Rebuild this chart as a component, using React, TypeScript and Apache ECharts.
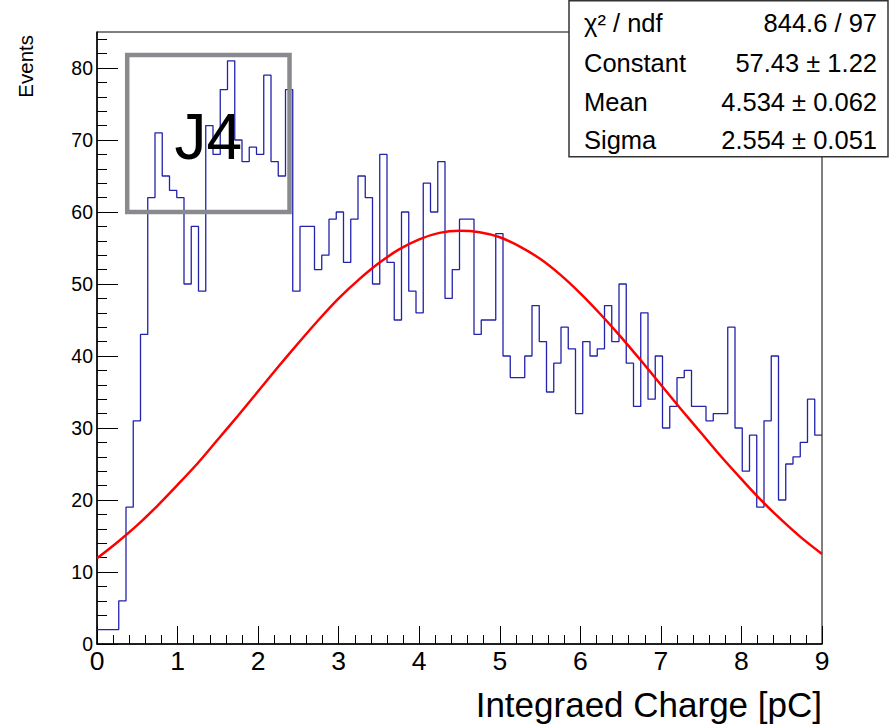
import React, { useEffect, useRef } from 'react';
import * as echarts from 'echarts';

// ---- Data ----
const X_MIN = 0;
const X_MAX = 9;
const N_BINS = 100;
const HIST_VALUES = [
  2, 2, 2, 6, 19, 31, 43, 62, 71, 65,
  63, 62, 50, 58, 49, 72, 68, 77, 81, 70,
  67, 69, 68, 79, 67, 65, 77, 49, 58, 58,
  52, 54, 59, 60, 53, 59, 65, 62, 50, 68,
  53, 45, 60, 49, 46, 64, 60, 67, 48, 52,
  59, 59, 43, 45, 45, 57, 40, 37, 37, 40,
  47, 42, 35, 39, 44, 41, 32, 42, 40, 41,
  47, 42, 50, 39, 33, 46, 34, 40, 30, 33,
  37, 38, 33, 33, 31, 32, 32, 44, 30, 24,
  29, 19, 31, 40, 20, 25, 26, 28, 34, 29,
];

// Fit curve (Gaussian, parameters in the stats box)
const FIT_X = [
  0, 0.25, 0.5, 0.75, 1, 1.25, 1.5, 1.75, 2, 2.25, 2.5, 2.75, 3, 3.25, 3.5, 3.75, 4, 4.25, 4.5,
  4.75, 5, 5.25, 5.5, 5.75, 6, 6.25, 6.5, 6.75, 7, 7.25, 7.5, 7.75, 8, 8.25, 8.5, 8.75, 9,
];
const FIT_Y = [
  11.9, 14.1, 16.5, 19.2, 22.1, 25.1, 28.4, 31.7, 35.1, 38.5, 41.8, 45.0, 48.0, 50.6, 52.9, 54.8, 56.2, 57.1, 57.4,
  57.2, 56.5, 55.2, 53.5, 51.3, 48.7, 45.8, 42.7, 39.4, 36.0, 32.6, 29.3, 26.0, 22.9, 19.9, 17.2, 14.7, 12.5,
];

const Y_MAJOR = [0, 10, 20, 30, 40, 50, 60, 70, 80];
const Y_MINOR = [2, 4, 6, 8, 12, 14, 16, 18, 22, 24, 26, 28, 32, 34, 36, 38, 42, 44, 46, 48, 52, 54, 56, 58, 62, 64, 66, 68, 72, 74, 76, 78, 82, 84];

const STAT_LABELS = ['χ² / ndf', 'Constant', 'Mean', 'Sigma'];
const STAT_VALUES = ['844.6 / 97', '57.43 ± 1.22', '4.534 ± 0.062', '2.554 ± 0.051'];

const BOX_LABEL = 'J4';
const BOX_X = [0.375, 2.39];
const BOX_Y = [60, 81.8];

const X_TITLE = 'Integraed Charge [pC]';
const Y_TITLE = 'Events';

const FONT = '"Liberation Sans", Arial, Helvetica, sans-serif';

export default function App() {
  const ref = useRef<HTMLDivElement>(null);

  useEffect(() => {
    if (!ref.current) return;
    const chart = echarts.init(ref.current, undefined, { renderer: 'svg' });

    const binWidth = (X_MAX - X_MIN) / N_BINS;
    const histData: number[][] = HIST_VALUES.map((v, i) => [X_MIN + i * binWidth, v]);
    histData.push([X_MAX, HIST_VALUES[HIST_VALUES.length - 1]]);
    const fitData = FIT_X.map((x, i) => [x, FIT_Y[i]]);

    const statY = [23, 63, 102, 140];
    const statGraphics: any[] = [];
    STAT_LABELS.forEach((lab, i) => {
      statGraphics.push({
        type: 'text', x: 584, y: statY[i], z: 101,
        style: { text: lab, fontSize: 25.5, fontFamily: FONT, fill: '#000', align: 'left', verticalAlign: 'middle' },
      });
      statGraphics.push({
        type: 'text', x: 877, y: statY[i], z: 101,
        style: { text: STAT_VALUES[i], fontSize: 25.5, fontFamily: FONT, fill: '#000', align: 'right', verticalAlign: 'middle' },
      });
    });

    const option: any = {
      animation: false,
      backgroundColor: '#fff',
      grid: { left: 97, right: 70, top: 32, bottom: 80, show: true, borderColor: '#000', borderWidth: 1, backgroundColor: 'transparent' },
      xAxis: {
        type: 'value', min: X_MIN, max: X_MAX, interval: 1,
        axisLine: { show: true, onZero: false, lineStyle: { color: '#000', width: 1.5 } },
        axisTick: { show: true, inside: true, length: 18, lineStyle: { color: '#000', width: 1 } },
        minorTick: { show: true, splitNumber: 5, length: 9, lineStyle: { color: '#000', width: 1 } },
        splitLine: { show: false },
        minorSplitLine: { show: false },
        axisLabel: { fontSize: 26.5, color: '#000', margin: 3, fontFamily: FONT },
      },
      yAxis: [
        {
          type: 'value', min: 0, max: 85, interval: 10,
          axisLine: { show: true, onZero: false, lineStyle: { color: '#000', width: 1.5 } },
          axisTick: { show: true, inside: true, length: 21, customValues: Y_MAJOR, lineStyle: { color: '#000', width: 1 } },
          splitLine: { show: false },
          axisLabel: { fontSize: 19.5, color: '#000', margin: 4, fontFamily: FONT, customValues: Y_MAJOR },
        },
        {
          type: 'value', min: 0, max: 85, position: 'left',
          axisLine: { show: false },
          axisTick: { show: true, inside: true, length: 10, customValues: Y_MINOR, lineStyle: { color: '#000', width: 1 } },
          splitLine: { show: false },
          axisLabel: { show: false },
        },
      ],
      series: [
        {
          type: 'line', name: 'hist', data: histData, step: 'end', showSymbol: false, symbol: 'none',
          yAxisIndex: 0,
          lineStyle: { color: '#2222aa', width: 1.3 },
          z: 3,
          markArea: {
            silent: true,
            z: 4,
            itemStyle: { color: 'rgba(0,0,0,0)', borderColor: '#888a8d', borderWidth: 4.5 },
            label: { show: true, position: 'inside', offset: [0, 3], formatter: BOX_LABEL, fontSize: 64, color: '#000', fontFamily: FONT },
            data: [[{ xAxis: BOX_X[0], yAxis: BOX_Y[1] }, { xAxis: BOX_X[1], yAxis: BOX_Y[0] }]],
          },
        },
        {
          type: 'line', name: 'fit', data: fitData, smooth: 0.3, showSymbol: false, symbol: 'none',
          yAxisIndex: 0,
          lineStyle: { color: '#ff0000', width: 2.5 },
          z: 5,
        },
      ],
      graphic: [
        {
          type: 'rect', z: 100,
          shape: { x: 569, y: 0.75, width: 319, height: 156 },
          style: { fill: '#fff', stroke: '#333', lineWidth: 1.5 },
        },
        ...statGraphics,
        {
          type: 'text', x: 822, y: 704,
          style: { text: X_TITLE, fontSize: 35, fontFamily: FONT, fill: '#000', align: 'right', verticalAlign: 'middle' },
        },
        {
          type: 'text', x: 25, y: 35, rotation: Math.PI / 2,
          style: { text: Y_TITLE, fontSize: 20.5, fontFamily: FONT, fill: '#000', align: 'right', verticalAlign: 'middle' },
        },
      ],
    };

    chart.setOption(option);
    return () => chart.dispose();
  }, []);

  return (
    <div
      ref={ref}
      style={{ position: 'fixed', left: 0, top: 0, width: 892, height: 724, background: '#fff' }}
    />
  );
}
